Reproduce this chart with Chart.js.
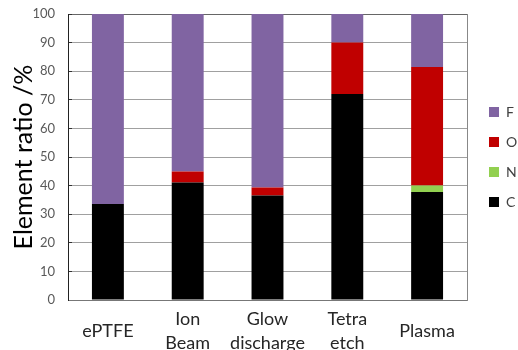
<!DOCTYPE html>
<html>
<head>
<meta charset="utf-8">
<script src="https://cdn.jsdelivr.net/npm/chart.js@4"></script>
<style>
  html,body{margin:0;padding:0;background:#fff;}
</style>
</head>
<body>
<canvas id="myChart" width="518" height="350"></canvas>
<script>
// ---------- data ----------
const categories=['ePTFE',['Ion','Beam'],['Glow','discharge'],['Tetra','etch'],'Plasma'];
const elementNames=['C','N','O','F'];
const carbonValues=[33.6,41.1,36.5,72.0,37.8];
const nitrogenValues=[0,0,0,0,2.2];
const oxygenValues=[0,3.8,2.8,18.0,41.5];
const fluorineValues=[66.4,55.1,60.7,10.0,18.5];
const yTickMin=0;
const yTickMax=100;
const yTickStep=10;

const elementColors=['#000000','#92D050','#C00000','#8064A2'];
const seriesValues=[carbonValues,nitrogenValues,oxygenValues,fluorineValues];

const fontFamily="Lato, 'Open Sans', sans-serif";

const data={
  labels:categories,
  datasets:elementNames.map((name,i)=>({
    label:name,
    data:seriesValues[i],
    backgroundColor:elementColors[i],
    borderWidth:0,
    barPercentage:0.4,
    categoryPercentage:1.0,
  }))
};

// keep the plot box where the reference has it
const fixVertical=(w)=>(scale)=>{scale.width=w;scale.paddingTop=0;scale.paddingBottom=0;};

const options={
  responsive:false,
  animation:false,
  layout:{padding:{top:14,right:0,left:0,bottom:0}},
  plugins:{
    legend:{
      position:'right',
      fullSize:false,
      reverse:true,
      maxWidth:45,
      labels:{
        boxWidth:10,
        boxHeight:10,
        padding:16,
        color:'#404040',
        font:{family:fontFamily,size:14}
      }
    },
    tooltip:{enabled:false}
  },
  scales:{
    x:{
      stacked:true,
      grid:{display:false,drawTicks:false},
      border:{display:true,color:'#777777',width:1},
      ticks:{
        color:'#262626',
        padding:19,
        crossAlign:'center',
        maxRotation:0,
        autoSkip:false,
        font:{family:fontFamily,size:18,lineHeight:1.33}
      },
      afterFit:(scale)=>{scale.height=50;scale.paddingLeft=0;scale.paddingRight=0;}
    },
    y:{
      stacked:true,
      min:yTickMin,
      max:yTickMax,
      ticks:{
        stepSize:yTickStep,
        color:'#595959',
        padding:17,
        font:{family:fontFamily,size:13}
      },
      grid:{
        drawTicks:true,
        tickLength:-4,
        tickColor:'#333333',
        color:(c)=>c.tick && c.tick.value===yTickMax ? '#666666' : '#a0a0a0',
        lineWidth:1
      },
      border:{display:true,color:'#222222',width:1},
      title:{
        display:true,
        text:'Element ratio /%',
        color:'#000000',
        padding:{top:9,bottom:0},
        font:{family:fontFamily,size:25}
      },
      afterFit:fixVertical(68)
    },
    // right frame line of the plot box
    yFrame:{
      type:'linear',
      position:'right',
      display:true,
      grid:{display:false,drawTicks:false},
      ticks:{display:false},
      border:{display:true,color:'#888888',width:1},
      afterFit:fixVertical(6)
    }
  }
};

const ctx=document.getElementById('myChart');
const chart=new Chart(ctx,{type:'bar',data:data,options:options});
</script>
</body>
</html>
